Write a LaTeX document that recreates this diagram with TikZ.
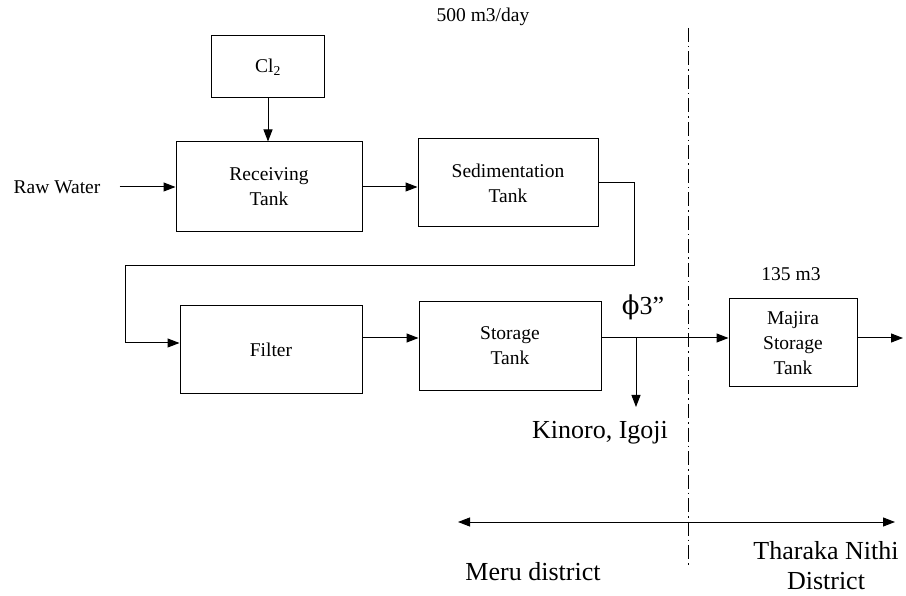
\documentclass[tikz,border=0pt]{standalone}
\usepackage{fontspec}
\setmainfont{Liberation Serif}
\newfontfamily\grkfont{DejaVu Serif}
\usetikzlibrary{arrows.meta,calc}
\newcommand{\mainsize}{\fontsize{19.5}{25}\selectfont}
\newcommand{\bigsize}{\fontsize{26}{30}\selectfont}
\tikzset{
  block/.style={draw=black, line width=1pt, align=center, fill=white,
    font=\mainsize, inner sep=0pt},
  lbl/.style={font=\mainsize, inner sep=2pt},
  biglbl/.style={font=\bigsize, inner sep=2pt, align=center},
  arr/.style={-{Triangle[length=12pt,width=9pt]}, line width=1pt},
  darr/.style={{Triangle[length=12pt,width=9pt]}-{Triangle[length=12pt,width=9pt]}, line width=1pt},
  border/.style={line width=1pt, dash pattern=on 14pt off 4pt on 1.5pt off 4pt}
}
\begin{document}
\begin{tikzpicture}[x=1pt,y=-1pt]
  \useasboundingbox (0,0) rectangle (906,596);

  \node[block, minimum width=113pt, minimum height=62pt] (cl) at (268,67) {Cl\textsubscript{2}};
  \node[block, minimum width=186pt, minimum height=90pt] (recv) at (269,187) {Receiving\\Tank};
  \node[block, minimum width=180pt, minimum height=88pt] (sed) at (508,183) {Sedimentation\\Tank};
  \node[block, minimum width=182pt, minimum height=88pt] (filter) at (271,350) {Filter};
  \node[block, minimum width=182pt, minimum height=89pt] (store) at (510,346) {Storage\\Tank};
  \node[block, minimum width=128pt, minimum height=88pt] (majira) at (793,343) {Majira\\Storage\\Tank};

  \node[lbl] (raw) at (57,187) {Raw Water};
  \node[lbl] (flow) at (483,17) {500 m3/day};
  \node[lbl] (vol) at (791,274) {135 m3};
  \node[biglbl] (dia) at (643,307) {{\grkfont ϕ}3''};
  \node[biglbl] (kinoro) at (600,433) {Kinoro, Igoji};
  \node[biglbl] (meru) at (533,572) {Meru district};
  \node[biglbl] (tharaka) at (826,566) {Tharaka Nithi\\District};

  \coordinate (pipe) at (0,338);
  \coordinate (inrow) at (0,343);
  \coordinate (bendR) at (634,266);
  \coordinate (bendL) at (125,266);
  \coordinate (tee) at (636,338);
  \coordinate (kin) at (636,407);
  \coordinate (out) at (903,338);
  \coordinate (west) at (458,522);
  \coordinate (east) at (895,522);
  \coordinate (bdtop) at (688,28);
  \coordinate (bdbot) at (688,567);

  \draw[arr, shorten <=17pt] (raw) -- (recv);
  \draw[arr] (cl) -- (cl |- recv.north);
  \draw[arr] (recv.east) -- (recv.east -| sed.west);
  \draw[arr] (sed.east) -| (bendR) -- (bendL) |- (filter.west |- inrow);
  \draw[arr] (filter.east |- pipe) -- (store.west |- pipe);
  \draw[arr] (store.east |- pipe) -- (majira.west |- pipe);
  \draw[arr] (majira.east |- pipe) -- (out);
  \draw[arr] (tee) -- (kin);

  \draw[border] (bdtop) -- (bdbot);
  \draw[darr] (west) -- (east);
\end{tikzpicture}
\end{document}
